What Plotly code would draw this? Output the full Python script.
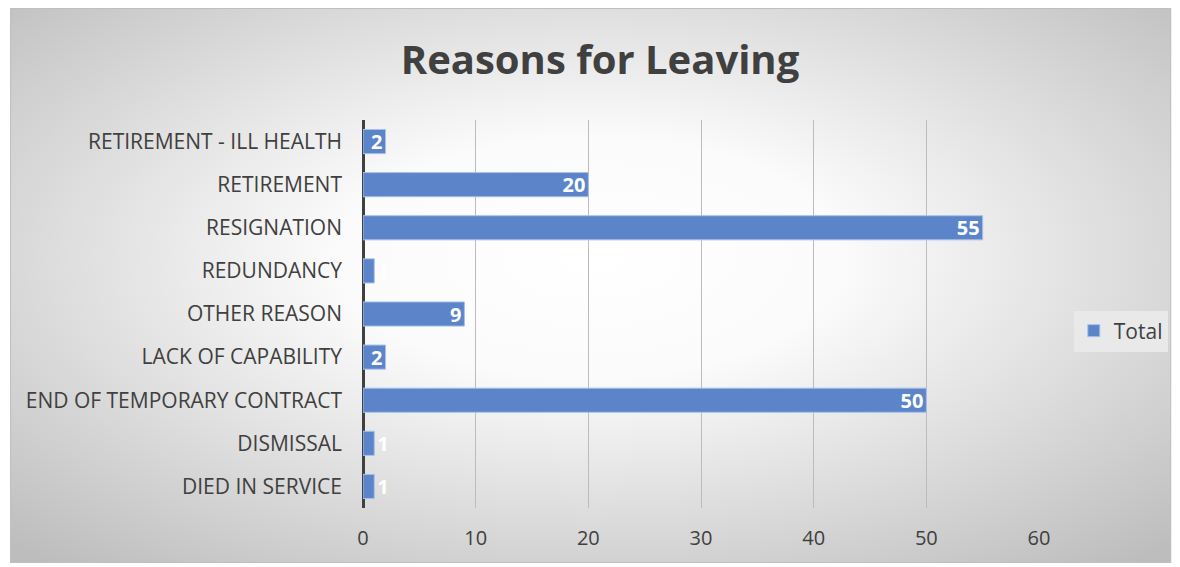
import base64
import plotly.graph_objects as go

categories = ["DIED IN SERVICE", "DISMISSAL", "END OF TEMPORARY CONTRACT", "LACK OF CAPABILITY",
              "OTHER REASON", "REDUNDANCY", "RESIGNATION", "RETIREMENT", "RETIREMENT - ILL HEALTH"]
totals = [1, 1, 50, 2, 9, 1, 55, 20, 2]
x_ticks = [0, 10, 20, 30, 40, 50, 60]

# page has an 8px body margin; figure coordinates are page coordinates minus 8
OFF = 8
W, H = 1172, 559
L, R, T, B = 355, 137, 112, 59
pw, ph = W - L - R, H - T - B

svg = ('<svg xmlns="http://www.w3.org/2000/svg" width="1170" height="555" viewBox="0 0 1170 555" preserveAspectRatio="none">'
       '<defs><radialGradient id="g" cx="0.5" cy="0.45" r="0.72">'
       '<stop offset="0" stop-color="#ffffff"/><stop offset="0.3" stop-color="#fbfbfb"/>'
       '<stop offset="1" stop-color="#bdbdbd"/></radialGradient></defs>'
       '<rect x="0" y="0" width="1170" height="555" fill="url(#g)" stroke="#bfbfbf" stroke-width="2"/></svg>')
src = "data:image/svg+xml;base64," + base64.b64encode(svg.encode()).decode()


def px2x(p):
    return (p - OFF - L) / pw


def px2y(p):
    return (H - B - (p - OFF)) / ph


FONT = "Open Sans"

fig = go.Figure()
fig.add_trace(go.Bar(
    y=categories, x=totals, orientation="h", name="Total",
    marker=dict(color="#5b84c9", line=dict(color="#a8c1ea", width=1)),
    width=0.56,
    text=[str(v) for v in totals],
    textposition=["outside" if v < 2 else "inside" for v in totals],
    insidetextanchor="end",
    textangle=0, constraintext="none", cliponaxis=False,
    textfont=dict(family=FONT, size=20, color="white", weight="bold"),
    outsidetextfont=dict(family=FONT, size=20, color="white", weight="bold"),
    showlegend=True,
))

fig.add_layout_image(dict(
    source=src, xref="paper", yref="paper",
    x=px2x(8), y=px2y(8), sizex=(1176 - 8) / pw, sizey=(563 - 8) / ph,
    xanchor="left", yanchor="top", sizing="stretch", layer="below",
))

fig.update_layout(
    width=W, height=H,
    margin=dict(l=L, r=R, t=T, b=B),
    paper_bgcolor="white", plot_bgcolor="rgba(0,0,0,0)",
    title=dict(text="<b>Reasons for Leaving</b>", x=(600 - OFF) / W, xanchor="center",
               y=1 - (60 - OFF) / H, yanchor="middle",
               font=dict(family=FONT, size=40, color="#404040")),
    font=dict(family=FONT, size=21, color="#404040"),
    xaxis=dict(range=[0, 60], tickvals=x_ticks, showgrid=True, gridcolor="#bcbcbc", gridwidth=1,
               zeroline=True, zerolinecolor="#404040", zerolinewidth=3,
               showline=False, ticks="", ticklabelstandoff=16, automargin=False,
               tickfont=dict(family=FONT, size=20, color="#404040")),
    yaxis=dict(showgrid=False, zeroline=False, showline=False, ticks="",
               ticklabelstandoff=20, automargin=False,
               tickfont=dict(family=FONT, size=21, color="#404040")),
    legend=dict(x=px2x(1078), y=px2y(331), xanchor="left", yanchor="middle",
                bgcolor="#e9e9e9", borderwidth=0,
                font=dict(family=FONT, size=21, color="#404040"),
                itemwidth=30),
    bargap=0.44,
)

fig.write_html("out.html")
